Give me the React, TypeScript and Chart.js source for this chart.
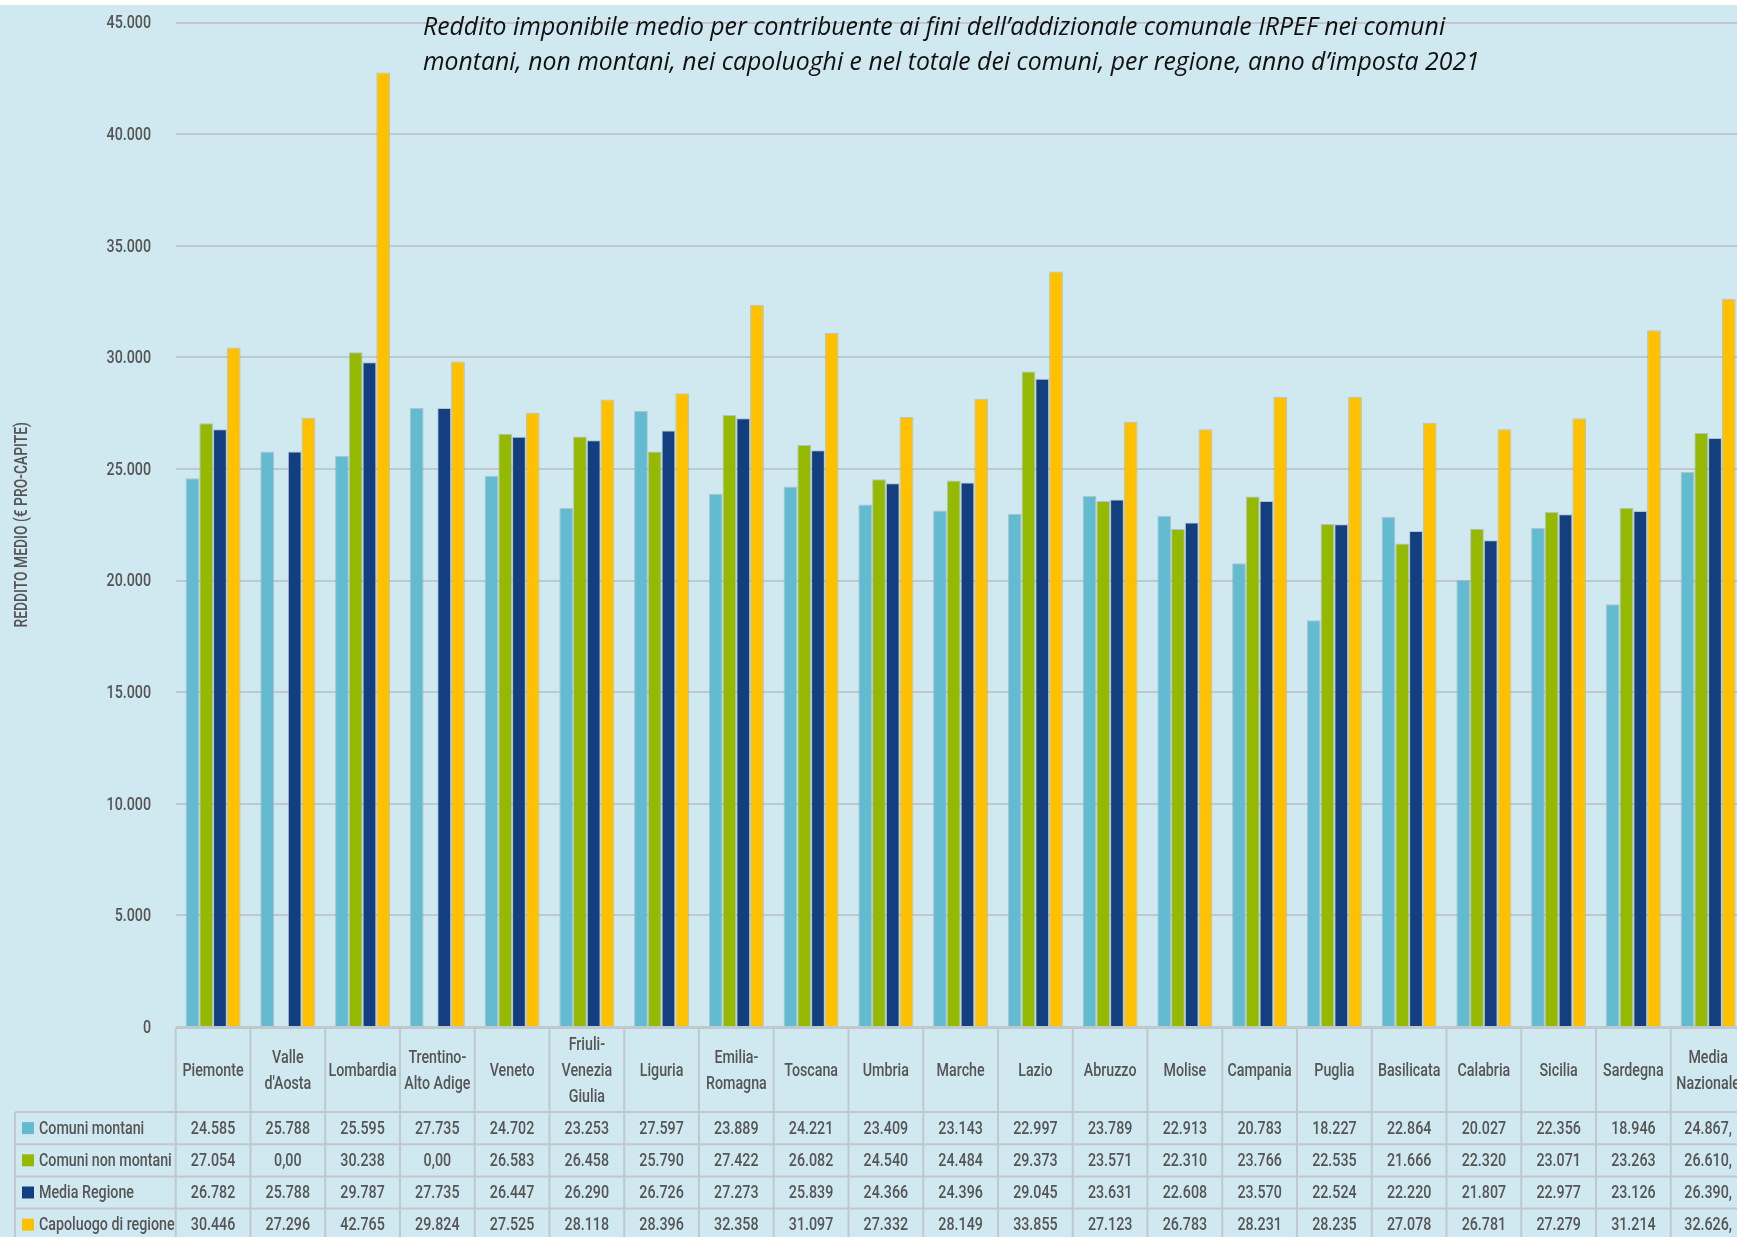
import React, { useEffect, useRef } from "react";
import { Chart, registerables } from "chart.js";

Chart.register(...registerables);

const categories = [
  "Piemonte", "Valle d'Aosta", "Lombardia", "Trentino-Alto Adige", "Veneto",
  "Friuli-Venezia Giulia", "Liguria", "Emilia-Romagna", "Toscana", "Umbria",
  "Marche", "Lazio", "Abruzzo", "Molise", "Campania", "Puglia", "Basilicata",
  "Calabria", "Sicilia", "Sardegna", "Media Nazionale",
];

const headerLabels = [
  ["Piemonte"], ["Valle", "d'Aosta"], ["Lombardia"], ["Trentino-", "Alto Adige"], ["Veneto"],
  ["Friuli-", "Venezia", "Giulia"], ["Liguria"], ["Emilia-", "Romagna"], ["Toscana"], ["Umbria"],
  ["Marche"], ["Lazio"], ["Abruzzo"], ["Molise"], ["Campania"], ["Puglia"], ["Basilicata"],
  ["Calabria"], ["Sicilia"], ["Sardegna"], ["Media", "Nazionale"],
];

const seriesNames = ["Comuni montani", "Comuni non montani", "Media Regione", "Capoluogo di regione"];

const comuniMontani = [24585, 25788, 25595, 27735, 24702, 23253, 27597, 23889, 24221, 23409, 23143, 22997, 23789, 22913, 20783, 18227, 22864, 20027, 22356, 18946, 24867];
const comuniNonMontani = [27054, 0, 30238, 0, 26583, 26458, 25790, 27422, 26082, 24540, 24484, 29373, 23571, 22310, 23766, 22535, 21666, 22320, 23071, 23263, 26610];
const mediaRegione = [26782, 25788, 29787, 27735, 26447, 26290, 26726, 27273, 25839, 24366, 24396, 29045, 23631, 22608, 23570, 22524, 22220, 21807, 22977, 23126, 26390];
const capoluogo = [30446, 27296, 42765, 29824, 27525, 28118, 28396, 32358, 31097, 27332, 28149, 33855, 27123, 26783, 28231, 28235, 27078, 26781, 27279, 31214, 32626];

const seriesValues = [comuniMontani, comuniNonMontani, mediaRegione, capoluogo];
const seriesColors = ["#62BBD1", "#95B900", "#133F80", "#FFC000"];

const yTitle = "REDDITO MEDIO (€ PRO-CAPITE)";
const titleLines = [
  "Reddito imponibile medio per contribuente ai fini dell’addizionale comunale IRPEF nei comuni",
  "montani, non montani, nei capoluoghi e nel totale dei comuni, per regione, anno d’imposta 2021",
];

const FONT = 'Roboto, "Liberation Sans", sans-serif';
const TEXT = "#555555";
const BG = "#D0E8F0";
const LINE = "#BFC8CC";
const NARROW = 0.75;

const group = (v: number) => String(v).replace(/\B(?=(\d{3})+(?!\d))/g, ".");
const fmtCell = (v: number, i: number) => {
  const s = v === 0 ? "0,00" : group(v);
  return i === categories.length - 1 ? s + "," : s;
};

function narrowText(ctx: any, t: string, x: number, y: number, align: string, sx = NARROW, rot = 0) {
  ctx.save();
  ctx.translate(x, y);
  if (rot) ctx.rotate(rot);
  ctx.scale(sx, 1);
  ctx.textAlign = align;
  ctx.fillText(t, 0, 0);
  ctx.restore();
}

const bgPlugin = {
  id: "bg",
  beforeDraw(chart: any) {
    const { ctx, width, height } = chart;
    ctx.save();
    ctx.fillStyle = "#ffffff";
    ctx.fillRect(0, 0, width, 5);
    ctx.fillStyle = BG;
    ctx.fillRect(0, 5, width, height - 5);
    ctx.restore();
  },
};

const axisTextPlugin = {
  id: "axisText",
  afterDraw(chart: any) {
    const { ctx, chartArea: area } = chart;
    const ys = chart.scales.y;
    ctx.save();
    ctx.fillStyle = TEXT;
    ctx.textBaseline = "middle";
    ctx.font = `500 19px ${FONT}`;
    ys.ticks.forEach((tk: any) => {
      narrowText(ctx, group(tk.value), 151, ys.getPixelForValue(tk.value) + 1, "right");
    });
    ctx.font = `500 18px ${FONT}`;
    narrowText(ctx, yTitle, 22, (area.top + area.bottom) / 2, "center", 0.77, -Math.PI / 2);
    ctx.restore();
  },
};

const tablePlugin = {
  id: "dataTable",
  afterDraw(chart: any) {
    const { ctx, chartArea: area, height } = chart;
    const xs = chart.scales.x;
    const n = categories.length;
    const cw = (area.right - area.left) / n;
    const top = area.bottom + 1;
    const headerBottom = top + 84;
    const rowH = 32.2;
    const leftEdge = 15;
    ctx.save();
    ctx.strokeStyle = LINE;
    ctx.lineWidth = 2;
    ctx.beginPath();
    ctx.moveTo(area.left, top);
    ctx.lineTo(area.right, top);
    for (let r = 0; r <= seriesNames.length; r++) {
      const y = headerBottom + r * rowH;
      ctx.moveTo(leftEdge, y);
      ctx.lineTo(area.right, y);
    }
    for (let i = 0; i <= n; i++) {
      const x = area.left + i * cw;
      ctx.moveTo(x, top);
      ctx.lineTo(x, height);
    }
    ctx.moveTo(leftEdge, headerBottom);
    ctx.lineTo(leftEdge, height);
    ctx.stroke();

    ctx.fillStyle = TEXT;
    ctx.font = `500 19px ${FONT}`;
    ctx.textBaseline = "middle";
    const lh = 26;
    const hc = (top + headerBottom) / 2 + 1;
    headerLabels.forEach((lines, i) => {
      const x = xs.getPixelForValue(i);
      const y0 = hc - ((lines.length - 1) * lh) / 2;
      lines.forEach((t, k) => narrowText(ctx, t, x, y0 + k * lh, "center"));
    });

    seriesNames.forEach((name, r) => {
      const yc = headerBottom + r * rowH + rowH / 2 + 1;
      ctx.fillStyle = seriesColors[r];
      ctx.fillRect(22, yc - 7, 12, 12);
      ctx.fillStyle = TEXT;
      narrowText(ctx, name, 39, yc, "left");
      seriesValues[r].forEach((v, i) => {
        narrowText(ctx, fmtCell(v, i), xs.getPixelForValue(i), yc, "center");
      });
    });
    ctx.restore();
  },
};

export default function App() {
  const ref = useRef<HTMLCanvasElement | null>(null);
  useEffect(() => {
    if (!ref.current) return;
    const chart = new Chart(ref.current, {
      type: "bar",
      data: {
        labels: categories,
        datasets: seriesNames.map((name, k) => ({
          label: name,
          data: seriesValues[k],
          backgroundColor: seriesColors[k],
          borderColor: "rgba(150,165,170,0.55)",
          borderWidth: 1,
          categoryPercentage: 0.736,
          barPercentage: 1,
        })),
      },
      options: {
        responsive: false,
        animation: false,
        devicePixelRatio: 1,
        layout: { padding: { top: 22.7, bottom: 210, right: 14.5, left: 0 } },
        plugins: { legend: { display: false }, title: { display: false }, tooltip: { enabled: false } },
        scales: {
          x: { display: false },
          y: {
            min: 0,
            max: 45000,
            ticks: { stepSize: 5000, display: false },
            grid: { color: LINE, lineWidth: 2, drawTicks: false },
            border: { display: false },
            afterFit: (scale: any) => {
              scale.width = 175.7;
            },
          },
        },
      },
      plugins: [bgPlugin, axisTextPlugin, tablePlugin],
    });
    return () => chart.destroy();
  }, []);

  return (
    <div style={{ position: "fixed", left: 0, top: 0, width: "100vw", height: "100vh", overflow: "hidden", background: "#fff" }}>
      <canvas ref={ref} width={1760} height={1237} style={{ position: "absolute", left: 0, top: 0, width: 1760, height: 1237 }} />
      <div
        style={{
          position: "absolute",
          left: 423,
          top: 8,
          fontFamily: '"Open Sans", sans-serif',
          fontStyle: "italic",
          fontSize: 24.8,
          lineHeight: "34.5px",
          color: "#111",
          whiteSpace: "nowrap",
        }}
      >
        {titleLines[0]}
        <br />
        {titleLines[1]}
      </div>
    </div>
  );
}
